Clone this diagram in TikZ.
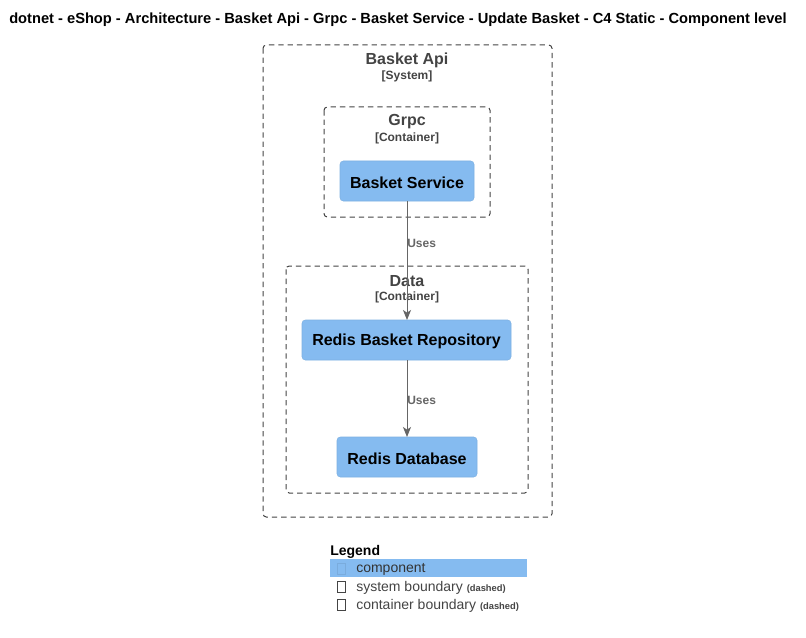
\documentclass[tikz,border=0pt]{standalone}
\usepackage{fontspec}
\setmainfont{Liberation Sans}
\usetikzlibrary{arrows.meta}
\definecolor{compblue}{HTML}{85BBF0}
\definecolor{bndtext}{HTML}{444444}
\definecolor{reltext}{HTML}{666666}
\tikzset{
  px/.style={x=0.75pt,y=-0.75pt},
  boundary/.style={draw=bndtext, line width=0.75pt, dash pattern=on 4pt off 3pt, rounded corners=2.5pt, fill=none},
  comp/.style={fill=compblue, draw=compblue!90!black!60!compblue, line width=0.4pt, rounded corners=2.5pt},
  comptext/.style={font=\bfseries\fontsize{12}{14}\selectfont, text=black},
  bndlabel/.style={font=\bfseries\fontsize{12}{14}\selectfont, text=bndtext},
  stereo/.style={font=\bfseries\fontsize{9}{10}\selectfont, text=bndtext},
  rel/.style={draw=reltext, line width=0.75pt, -{Stealth[length=7.5pt,width=6pt,inset=2pt]}},
  rellabel/.style={font=\bfseries\fontsize{9}{11}\selectfont, text=reltext},
  legtext/.style={font=\fontsize{10.5}{12}\selectfont, text=bndtext, anchor=west, inner sep=0pt},
  small/.style={},
  tofu/.style={draw=#1, line width=0.5pt, minimum width=6pt, minimum height=8.5pt, inner sep=0pt},
}
\newcommand{\dashednote}{{\bfseries\fontsize{7}{8}\selectfont(dashed)}}
\begin{document}
\begin{tikzpicture}[px]
\useasboundingbox (0,0) rectangle (806,638);
\fill[white] (0,0) rectangle (806,638);
% title
\node[font=\bfseries\fontsize{11}{12}\selectfont, anchor=west, inner sep=0pt] (title) at (9,20) {dotnet - eShop - Architecture - Basket Api - Grpc - Basket Service - Update Basket - C4 Static - Component level};
% system boundary
\draw[boundary] (263,45) rectangle (552,517);
\node[bndlabel] (sysname) at (407,60) {Basket Api};
\node[stereo] (sysst) at (407,76.5) {[System]};
% grpc container
\draw[boundary] (324,107) rectangle (490,217);
\node[bndlabel] (grpcname) at (407,122) {Grpc};
\node[stereo] (grpcst) at (407,138.5) {[Container]};
% data container
\draw[boundary] (286,266) rectangle (528,493);
\node[bndlabel] (dataname) at (407,281) {Data};
\node[stereo] (datast) at (407,297.5) {[Container]};
% components
\draw[comp] (340,161) rectangle (474,201);
\node[comptext] (bs) at (407,182.5) {Basket Service};
\coordinate (bsb) at (407,201);
\draw[comp] (302,320) rectangle (511,360);
\node[comptext] (rbr) at (406.5,341.5) {Redis Basket Repository};
\coordinate (rbrt) at (407,320);
\coordinate (rbrb) at (407,360);
\draw[comp] (337,437) rectangle (477,477);
\node[comptext] (rdb) at (407,458.5) {Redis Database};
\coordinate (rdbt) at (407,437);
% relations
\draw[rel] (bsb) -- (rbrt);
\node[rellabel, anchor=west, inner sep=0pt] (u1) at (407,243) {Uses};
\draw[rel] (rbrb) -- (rdbt);
\node[rellabel, anchor=west, inner sep=0pt] (u2) at (407,400) {Uses};
% legend
\node[font=\bfseries\fontsize{10.5}{12}\selectfont, anchor=west, inner sep=0pt] (leg) at (330,551.5) {Legend};
\fill[compblue] (330,559) rectangle (527,576.5);
\node[tofu=compblue!80!black!40!compblue] (t1) at (341.5,569) {};
\node[legtext, text=black!80] (l1) at (356,569.5) {component};
\node[tofu=bndtext] (t2) at (341.5,587) {};
\node[legtext] (l2) at (356,587.5) {system boundary \dashednote};
\node[tofu=bndtext] (t3) at (341.5,605) {};
\node[legtext] (l3) at (356,605.5) {container boundary \dashednote};
\end{tikzpicture}
\end{document}
